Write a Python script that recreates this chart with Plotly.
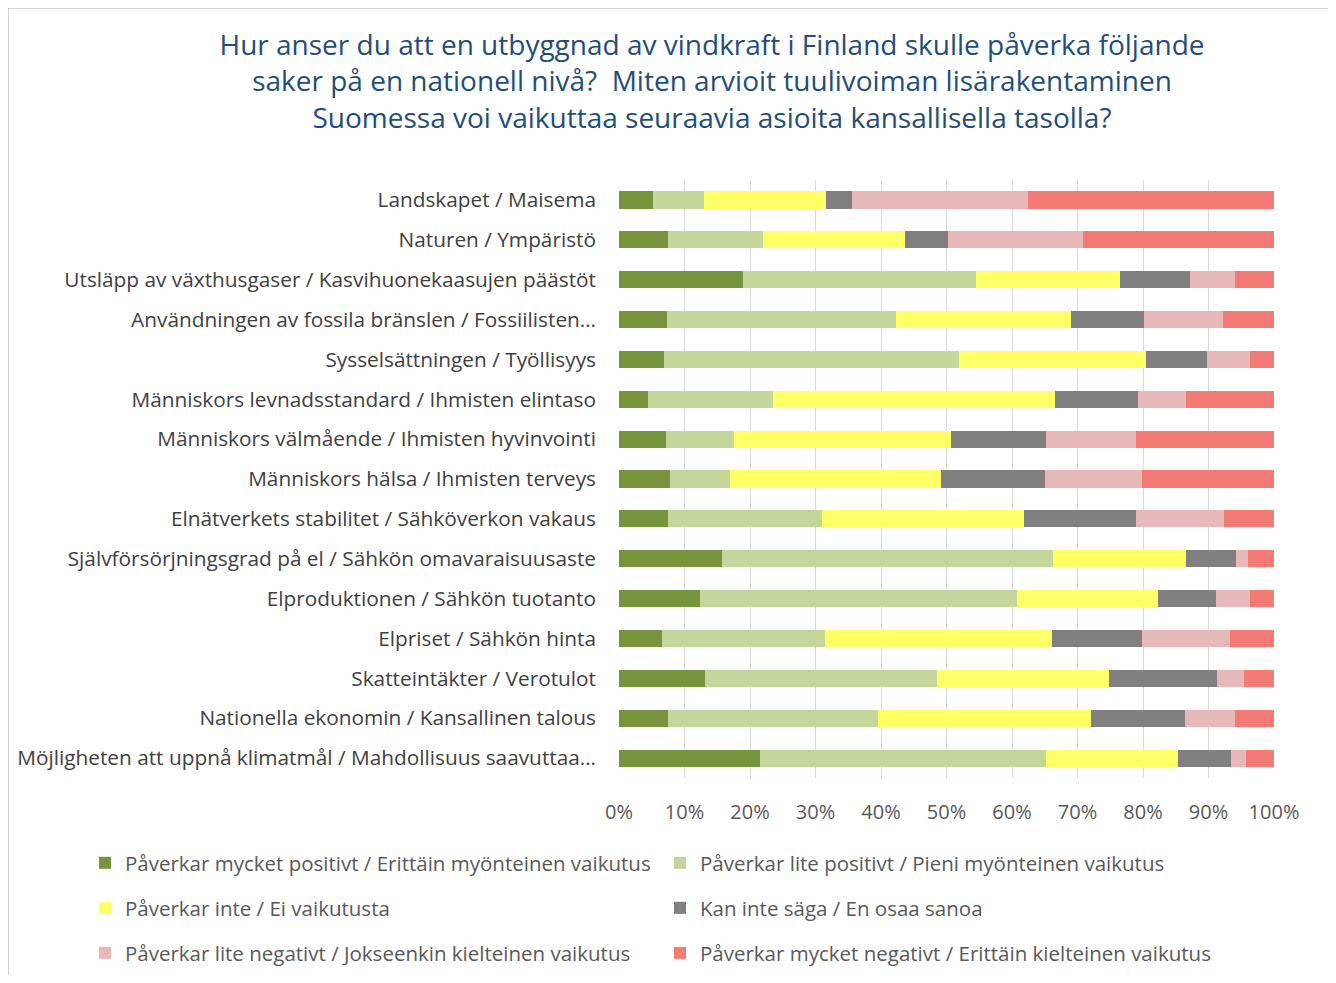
import plotly.graph_objects as go

categories = [
    "Landskapet / Maisema",
    "Naturen / Ympäristö",
    "Utsläpp av växthusgaser / Kasvihuonekaasujen päästöt",
    "Användningen av fossila bränslen / Fossiilisten…",
    "Sysselsättningen / Työllisyys",
    "Människors levnadsstandard / Ihmisten elintaso",
    "Människors välmående / Ihmisten hyvinvointi",
    "Människors hälsa / Ihmisten terveys",
    "Elnätverkets stabilitet / Sähköverkon vakaus",
    "Självförsörjningsgrad på el / Sähkön omavaraisuusaste",
    "Elproduktionen / Sähkön tuotanto",
    "Elpriset / Sähkön hinta",
    "Skatteintäkter / Verotulot",
    "Nationella ekonomin / Kansallinen talous",
    "Möjligheten att uppnå klimatmål / Mahdollisuus saavuttaa…",
]

very_positive = [5.2, 7.5, 18.9, 7.4, 6.8, 4.5, 7.2, 7.8, 7.5, 15.7, 12.3, 6.5, 13.1, 7.5, 21.5]
little_positive = [7.8, 14.5, 35.6, 34.9, 45.1, 19.0, 10.4, 9.1, 23.5, 50.6, 48.4, 24.9, 35.4, 32.0, 43.7]
no_effect = [18.6, 21.7, 22.0, 26.7, 28.5, 43.0, 33.1, 32.3, 30.8, 20.3, 21.6, 34.7, 26.3, 32.6, 20.2]
cant_say = [4.0, 6.6, 10.7, 11.1, 9.4, 12.7, 14.5, 15.8, 17.1, 7.6, 8.8, 13.8, 16.5, 14.3, 8.1]
little_negative = [26.9, 20.5, 6.9, 12.1, 6.6, 7.3, 13.8, 14.9, 13.5, 1.9, 5.3, 13.4, 4.1, 7.7, 2.3]
very_negative = [37.6, 29.3, 5.9, 7.8, 3.6, 13.5, 21.0, 20.1, 7.6, 3.9, 3.6, 6.7, 4.6, 5.9, 4.2]

series_names = [
    "Påverkar mycket positivt / Erittäin myönteinen vaikutus",
    "Påverkar lite positivt / Pieni myönteinen vaikutus",
    "Påverkar inte / Ei vaikutusta",
    "Kan inte säga / En osaa sanoa",
    "Påverkar lite negativt / Jokseenkin kielteinen vaikutus",
    "Påverkar mycket negativt / Erittäin kielteinen vaikutus",
]
series_values = [very_positive, little_positive, no_effect, cant_say, little_negative, very_negative]
colors = ["#77933C", "#C3D69B", "#FFFF66", "#808080", "#E6B9B8", "#F47A75"]
legend_ids = ["legend", "legend", "legend2", "legend2", "legend3", "legend3"]

title_text = ("Hur anser du att en utbyggnad av vindkraft i Finland skulle påverka följande<br>"
              "saker på en nationell nivå?  Miten arvioit tuulivoiman lisärakentaminen<br>"
              "Suomessa voi vaikuttaa seuraavia asioita kansallisella tasolla?")

FONT = "Open Sans"
fig = go.Figure()
for name, vals, col, lg in zip(series_names, series_values, colors, legend_ids):
    fig.add_trace(go.Bar(
        y=categories, x=vals, name=name, orientation="h",
        marker=dict(color=col, line=dict(width=0)),
        legend=lg,
    ))

# page offset of 8px (browser body margin) is compensated
OFF = 8
W, H = 1324, 967
L, T = 619 - OFF, 180 - OFF
R = W - (1274 - OFF)
B = H - (778 - OFF)
pw, ph = W - L - R, H - T - B

def px_x(x):
    return (x - OFF - L) / pw

def px_y(y):
    return (H - B - (y - OFF)) / ph

def cx(x):
    return (x - OFF) / W

def cy(y):
    return 1 - (y - OFF) / H

legend_common = dict(
    orientation="h", xanchor="left", yanchor="middle",
    xref="paper", yref="paper",
    font=dict(family=FONT, size=20.5, color="#595959"),
    entrywidth=530, entrywidthmode="pixels", traceorder="normal",
    bgcolor="rgba(0,0,0,0)", itemclick=False,
)

LEG_X = px_x(85)

fig.update_layout(
    width=W, height=H,
    margin=dict(l=L, r=R, t=T, b=B, autoexpand=False),
    barmode="stack", bargap=0.57,
    plot_bgcolor="white", paper_bgcolor="white",
    font=dict(family=FONT, color="#595959"),
    title=dict(text=title_text, x=cx(712), xref="container", xanchor="center",
               y=cy(55), yref="container", yanchor="top",
               font=dict(family=FONT, size=28, color="#1F4E79")),
    xaxis=dict(range=[0, 100], tickvals=list(range(0, 101, 10)),
               ticktext=[f"{v}%" for v in range(0, 101, 10)],
               showgrid=True, gridcolor="#D9D9D9", gridwidth=1.3,
               zeroline=False, showline=False, ticks="", automargin=False,
               ticklabelstandoff=20,
               tickfont=dict(family=FONT, size=20, color="#595959")),
    yaxis=dict(autorange="reversed", showgrid=False, ticks="", automargin=False,
               ticklabelstandoff=22,
               tickfont=dict(family=FONT, size=20.8, color="#404040")),
    legend=dict(x=LEG_X, y=px_y(863), **legend_common),
    legend2=dict(x=LEG_X, y=px_y(908), **legend_common),
    legend3=dict(x=LEG_X, y=px_y(953), **legend_common),
    shapes=[dict(type="rect", xref="paper", yref="paper",
                 x0=px_x(8), x1=px_x(1330), y0=px_y(1000), y1=px_y(8),
                 line=dict(color="#A6A6A6", width=1), fillcolor="rgba(0,0,0,0)",
                 layer="below")],
)

fig.write_html("out.html")
